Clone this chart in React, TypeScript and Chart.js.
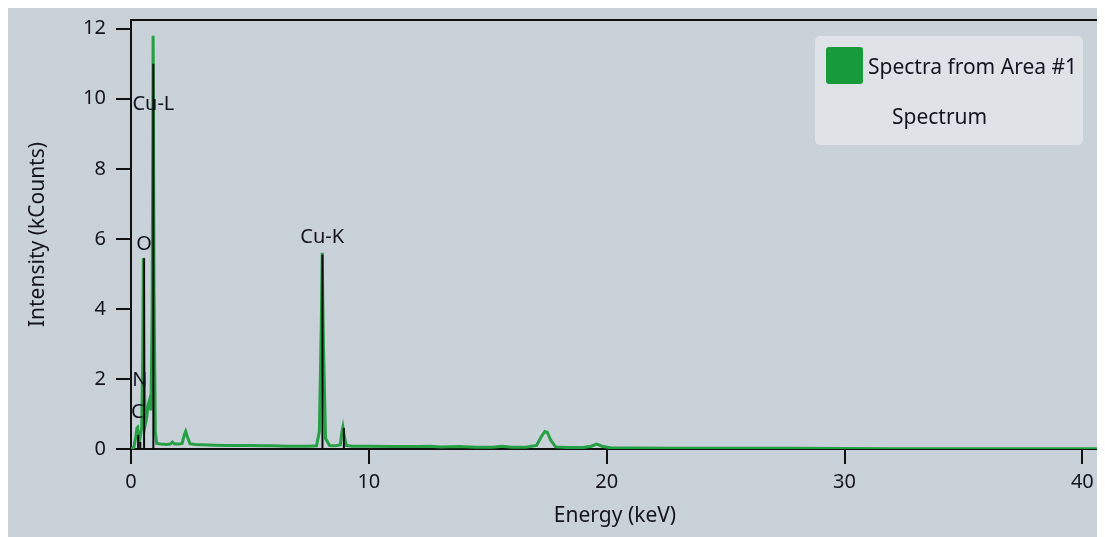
import React, { useEffect, useRef } from "react";
import { Chart, registerables } from "chart.js";

Chart.register(...registerables);

// Spectrum samples (energy in keV, intensity in kCounts)
const energyKeV = [
  0, 0.12, 0.2, 0.25, 0.28, 0.31, 0.36, 0.4, 0.45, 0.49,
  0.52, 0.55, 0.6, 0.66, 0.72, 0.78, 0.84, 0.89, 0.93, 0.97,
  1.02, 1.08, 1.25, 1.5, 1.65, 1.74, 1.83, 2.0, 2.15, 2.24,
  2.3, 2.37, 2.48, 2.7, 3.0, 3.5, 4.0, 4.5, 5.0, 5.5,
  6.0, 6.5, 7.0, 7.5, 7.8, 7.92, 8.0, 8.04, 8.09, 8.18,
  8.35, 8.6, 8.8, 8.86, 8.91, 8.96, 9.05, 9.3, 10, 11,
  12, 12.6, 13, 13.8, 14.5, 15.2, 15.6, 16, 16.6, 17.05,
  17.25, 17.4, 17.5, 17.65, 17.85, 18.4, 19.0, 19.35, 19.58, 19.8,
  20.2, 21, 23, 25, 28, 32, 36, 40.7,
];
const intensityKCounts = [
  0, 0.05, 0.35, 0.6, 0.62, 0.35, 0.25, 0.4, 0.6, 2.5,
  5.45, 2.2, 0.7, 0.9, 1.25, 1.4, 1.1, 4.0, 11.8, 4.5,
  0.5, 0.16, 0.14, 0.13, 0.14, 0.2, 0.14, 0.14, 0.16, 0.4,
  0.5, 0.35, 0.15, 0.13, 0.12, 0.11, 0.1, 0.1, 0.1, 0.09,
  0.09, 0.08, 0.08, 0.08, 0.09, 0.5, 3.5, 5.6, 3.0, 0.3,
  0.1, 0.09, 0.12, 0.45, 0.62, 0.4, 0.1, 0.08, 0.08, 0.07,
  0.07, 0.08, 0.06, 0.07, 0.05, 0.05, 0.08, 0.05, 0.05, 0.1,
  0.35, 0.5, 0.48, 0.25, 0.06, 0.04, 0.04, 0.08, 0.14, 0.08,
  0.03, 0.03, 0.02, 0.02, 0.02, 0.01, 0.01, 0.01,
];

// Element marker lines
const markerEnergyKeV = [0.3, 0.39, 0.55, 0.94, 8.05, 8.95];
const markerHeight = [0.4, 0.2, 5.45, 11.0, 5.55, 0.6];

// Element labels
const labelText = ["Cu-L", "O", "N", "C", "Cu-K"];
const labelEnergy = [0.06, 0.22, 0.05, 0.0, 8.04];
const labelIntensity = [9.85, 5.85, 1.95, 1.05, 6.05];
const labelAlign = ["left", "left", "left", "left", "center"];

const xTicks = [0, 10, 20, 30, 40];
const yTicks = [0, 2, 4, 6, 8, 10, 12];

const legendLabel = "Spectra from Area #1";
const legendSub = "Spectrum";

const FONT = "'Noto Sans', 'Open Sans', sans-serif";
const TEXT = "#141420";

const framePlugin = {
  id: "frame",
  beforeDatasetsDraw(chart: any) {
    const { ctx, chartArea } = chart;
    ctx.save();
    ctx.strokeStyle = "#111";
    ctx.lineWidth = 2;
    ctx.strokeRect(chartArea.left, chartArea.top, chartArea.right - chartArea.left, chartArea.bottom - chartArea.top);
    ctx.restore();
  },
  afterDatasetsDraw(chart: any) {
    const { ctx } = chart;
    const xs = chart.scales.x;
    const ys = chart.scales.y;
    ctx.save();
    ctx.fillStyle = TEXT;
    ctx.font = `20px ${FONT}`;
    ctx.textBaseline = "middle";
    labelText.forEach((t, i) => {
      ctx.textAlign = labelAlign[i] as CanvasTextAlign;
      ctx.fillText(t, xs.getPixelForValue(labelEnergy[i]), ys.getPixelForValue(labelIntensity[i]));
    });
    // legend
    const bx = 807, by = 28, bw = 268, bh = 109;
    ctx.fillStyle = "#dfe3e8";
    ctx.beginPath();
    (ctx as any).roundRect(bx, by, bw, bh, 5);
    ctx.fill();
    ctx.fillStyle = "#179b3a";
    ctx.beginPath();
    (ctx as any).roundRect(818, 39, 37, 37, 3);
    ctx.fill();
    ctx.fillStyle = TEXT;
    ctx.textAlign = "left";
    ctx.font = `21px ${FONT}`;
    ctx.fillText(legendLabel, 860, 60);
    ctx.fillText(legendSub, 884, 110);
    ctx.restore();
  },
};

export default function App() {
  const ref = useRef<HTMLCanvasElement>(null);
  useEffect(() => {
    if (!ref.current) return;
    const spectrum = energyKeV.map((e, i) => ({ x: e, y: intensityKCounts[i] }));
    const markers = markerEnergyKeV.map((e, i) => ({
      type: "line" as const,
      data: [{ x: e, y: 0 }, { x: e, y: markerHeight[i] }],
      borderColor: "#0a0a0a",
      borderWidth: 2,
      pointRadius: 0,
      order: 1,
    }));
    const chart = new Chart(ref.current, {
      type: "line",
      data: {
        datasets: [
          {
            label: legendLabel,
            data: spectrum,
            borderColor: "rgb(38,160,68)",
            borderWidth: 3,
            pointRadius: 0,
            tension: 0,
            order: 2,
          } as any,
          ...markers,
        ],
      },
      options: {
        animation: false,
        responsive: true,
        maintainAspectRatio: false,
        layout: { padding: { left: 0, top: 12, right: 6, bottom: 0 } },
        plugins: { legend: { display: false }, tooltip: { enabled: false } },
        scales: {
          x: {
            type: "linear",
            min: 0,
            max: 40.7,
            afterFit: (s: any) => { s.height = 88; s.paddingLeft = 0; s.paddingRight = 0; },
            afterBuildTicks: (s: any) => { s.ticks = xTicks.map((v) => ({ value: v })); },
            ticks: { color: TEXT, font: { size: 20, family: FONT }, padding: 6, maxRotation: 0 },
            grid: { drawOnChartArea: false, tickLength: 15, color: "#111", lineWidth: 2 },
            border: { display: false },
            title: { display: true, text: "Energy (keV)", color: TEXT, font: { size: 21, family: FONT }, padding: { top: 0, bottom: 8 } },
          },
          y: {
            type: "linear",
            min: 0,
            max: 12.25,
            afterFit: (s: any) => { s.width = 123; s.paddingTop = 0; s.paddingBottom = 0; },
            afterBuildTicks: (s: any) => { s.ticks = yTicks.map((v) => ({ value: v })); },
            ticks: { color: TEXT, font: { size: 20, family: FONT }, padding: 10 },
            grid: { drawOnChartArea: false, tickLength: 15, color: "#111", lineWidth: 2 },
            border: { display: false },
            title: { display: true, text: "Intensity (kCounts)", color: TEXT, font: { size: 21, family: FONT }, padding: { top: 17, bottom: 0 } },
          },
        },
      },
      plugins: [framePlugin],
    });
    return () => chart.destroy();
  }, []);
  return (
    <div style={{ width: 1097, height: 529, background: "#c9d1d9", position: "relative" }}>
      <canvas ref={ref} style={{ display: "block" }} />
    </div>
  );
}
